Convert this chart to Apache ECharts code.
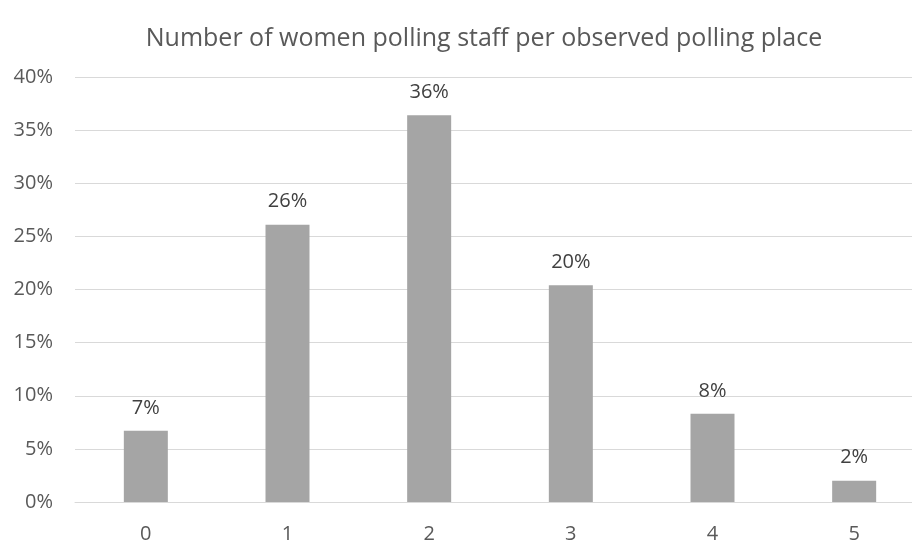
<!DOCTYPE html>
<html>
<head>
<meta charset="utf-8">
<script src="https://cdn.jsdelivr.net/npm/echarts@6/dist/echarts.min.js"></script>
<style>
	html, body { margin: 0; padding: 0; background: #fff; }
	#chart { width: 912px; height: 542px; }
</style>
</head>
<body>
<div id="chart"></div>
<script>
// data (percent)
var categories = ['0', '1', '2', '3', '4', '5'];
var shares = [6.7, 26.1, 36.4, 20.4, 8.3, 2.0];
var yTicks = { min: 0, max: 40, step: 5 };

var myChart = echarts.init(document.getElementById('chart'));

var option = {
	title: {
		text: 'Number of women polling staff per observed polling place',
		left: 479,
		textAlign: 'center',
		top: 21,
		textStyle: {
			fontFamily: 'Open Sans',
			fontWeight: 'normal',
			fontSize: 25,
			color: '#595959'
		}
	},
	grid: {
		left: 75,
		top: 77,
		width: 850,
		height: 425,
		outerBoundsMode: 'none'
	},
	xAxis: {
		type: 'category',
		data: categories,
		axisLine: { lineStyle: { color: '#d9d9d9', width: 1 } },
		axisTick: { show: false },
		axisLabel: {
			margin: 22,
			fontFamily: 'Open Sans',
			fontSize: 20,
			color: '#595959'
		}
	},
	yAxis: {
		type: 'value',
		min: yTicks.min,
		max: yTicks.max,
		interval: yTicks.step,
		axisLine: { show: false },
		axisTick: { show: false },
		splitLine: { lineStyle: { color: '#d9d9d9', width: 1 } },
		axisLabel: {
			formatter: '{value}%',
			margin: 22,
			fontFamily: 'Open Sans',
			fontSize: 20,
			color: '#595959'
		}
	},
	series: [{
		type: 'bar',
		data: shares,
		barWidth: 44,
		itemStyle: { color: '#a5a5a5' },
		label: {
			show: true,
			position: 'top',
			distance: 13,
			formatter: function (p) { return Math.round(p.value) + '%'; },
			fontFamily: 'Open Sans',
			fontSize: 20,
			color: '#404040'
		}
	}],
	animation: false
};

myChart.setOption(option);
</script>
</body>
</html>
